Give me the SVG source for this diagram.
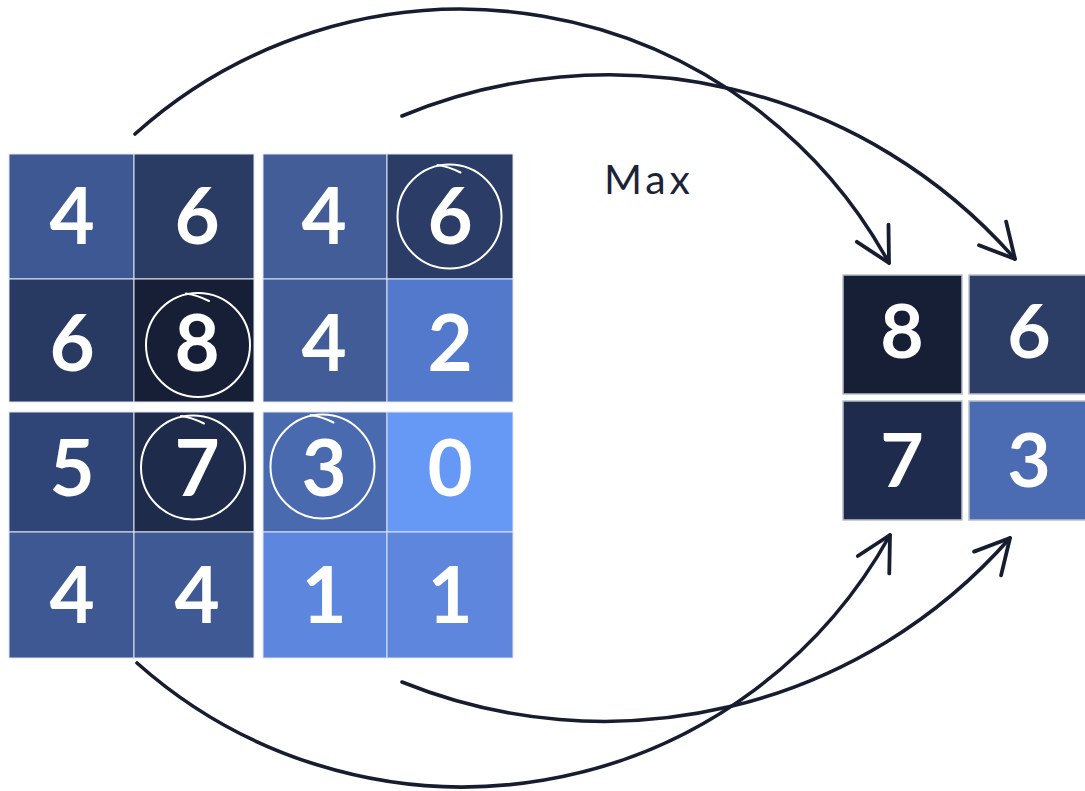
<svg xmlns="http://www.w3.org/2000/svg" xmlns:xlink="http://www.w3.org/1999/xlink" width="1085" height="791" viewBox="0 0 1085 791">
  <style>
    .cell { stroke: #dfe5ef; stroke-width: 1; }
    .out { stroke: #b9bfca; stroke-width: 1.5; }
    .num { font-family: Lato, "Liberation Sans", sans-serif; font-weight: 700; font-size: 78px; fill: #ffffff; text-anchor: middle; }
    .onum { font-size: 75px; }
    .ring { fill: none; stroke: #ffffff; stroke-width: 2; stroke-linecap: round; }
    .arc { fill: none; stroke: #161d31; stroke-width: 3.6; stroke-linecap: round; marker-end: url(#head); }
    .label { font-family: Lato, "Liberation Sans", sans-serif; font-size: 41px; fill: #1c2339; }
  </style>
  <defs>
    <marker id="head" markerUnits="userSpaceOnUse" markerWidth="50" markerHeight="50" viewBox="-40 -25 50 50" refX="0" refY="0" orient="auto">
      <path d="M-34,-18 L0,0 L-34,18" fill="none" stroke="#161d31" stroke-width="3.8" stroke-linecap="round" stroke-linejoin="round"/>
    </marker>
    <!-- hand-drawn highlight ring, centred on 0,0 -->
    <g id="ring">
      <circle class="ring" cx="0" cy="0" r="52"/>
      <path class="ring" d="M-12,-51.5 Q-1,-50 11,-44"/>
    </g>
  </defs>

  <rect width="1085" height="791" fill="#ffffff"/>

  <!-- input feature map, top-left block -->
  <g id="in-r1c1"><rect class="cell" x="9" y="154" width="125" height="125" fill="#3e5893"/><text class="num" x="72" y="244">4</text></g>
  <g id="in-r1c2"><rect class="cell" x="134" y="154" width="120" height="125" fill="#2b3c64"/><text class="num" x="197" y="244">6</text></g>
  <g id="in-r2c1"><rect class="cell" x="9" y="279" width="125" height="123" fill="#293a62"/><text class="num" x="72" y="371">6</text></g>
  <g id="in-r2c2"><rect class="cell" x="134" y="279" width="120" height="123" fill="#161f35"/><text class="num" x="197" y="371">8</text><use xlink:href="#ring" x="198" y="345"/></g>

  <!-- top-right block -->
  <g id="in-r1c3"><rect class="cell" x="263" y="154" width="124" height="125" fill="#435d99"/><text class="num" x="324" y="244">4</text></g>
  <g id="in-r1c4"><rect class="cell" x="387" y="154" width="126" height="125" fill="#2b3d66"/><text class="num" x="450" y="244">6</text><use xlink:href="#ring" x="449.5" y="216.5"/></g>
  <g id="in-r2c3"><rect class="cell" x="263" y="279" width="124" height="123" fill="#425c98"/><text class="num" x="324" y="371">4</text></g>
  <g id="in-r2c4"><rect class="cell" x="387" y="279" width="126" height="123" fill="#5279cc"/><text class="num" x="450" y="371">2</text></g>

  <!-- bottom-left block -->
  <g id="in-r3c1"><rect class="cell" x="9" y="412" width="125" height="120" fill="#2f4477"/><text class="num" x="72" y="496">5</text></g>
  <g id="in-r3c2"><rect class="cell" x="134" y="412" width="120" height="120" fill="#1e2b4b"/><text class="num" x="197" y="496">7</text><use xlink:href="#ring" x="193" y="467.5"/></g>
  <g id="in-r4c1"><rect class="cell" x="9" y="532" width="125" height="126" fill="#3e5894"/><text class="num" x="72" y="623">4</text></g>
  <g id="in-r4c2"><rect class="cell" x="134" y="532" width="120" height="126" fill="#3f5995"/><text class="num" x="197" y="623">4</text></g>

  <!-- bottom-right block -->
  <g id="in-r3c3"><rect class="cell" x="263" y="412" width="124" height="120" fill="#4a6ab0"/><text class="num" x="324" y="496">3</text><use xlink:href="#ring" x="322.5" y="466.5"/></g>
  <g id="in-r3c4"><rect class="cell" x="387" y="412" width="126" height="120" fill="#6699f5"/><text class="num" x="450" y="496">0</text></g>
  <g id="in-r4c3"><rect class="cell" x="263" y="532" width="124" height="126" fill="#5d86de"/><text class="num" x="324" y="623">1</text></g>
  <g id="in-r4c4"><rect class="cell" x="387" y="532" width="126" height="126" fill="#5e86dd"/><text class="num" x="450" y="623">1</text></g>

  <!-- pooled output -->
  <g id="out-r1c1"><rect class="out" x="843" y="275" width="119" height="119" fill="#161f36"/><text class="num onum" x="902" y="358">8</text></g>
  <g id="out-r1c2"><rect class="out" x="969" y="275" width="122" height="119" fill="#2c3e66"/><text class="num onum" x="1029" y="358">6</text></g>
  <g id="out-r2c1"><rect class="out" x="843" y="401" width="119" height="119" fill="#1e2b4c"/><text class="num onum" x="902" y="487">7</text></g>
  <g id="out-r2c2"><rect class="out" x="969" y="401" width="122" height="119" fill="#4b6bb2"/><text class="num onum" x="1029" y="487">3</text></g>

  <g id="label-max"><text class="label" x="604" y="194" textLength="86" lengthAdjust="spacing">Max</text></g>

  <!-- connectors: each window maps to one output cell -->
  <g id="connectors">
    <path class="arc" d="M135,134 A488,488 0 0 1 889,263"/>
    <path class="arc" d="M402,116 A540,540 0 0 1 1015,259"/>
    <path class="arc" d="M137,663 A489,489 0 0 0 890,535"/>
    <path class="arc" d="M402,682 A540,540 0 0 0 1010,538"/>
  </g>
</svg>
